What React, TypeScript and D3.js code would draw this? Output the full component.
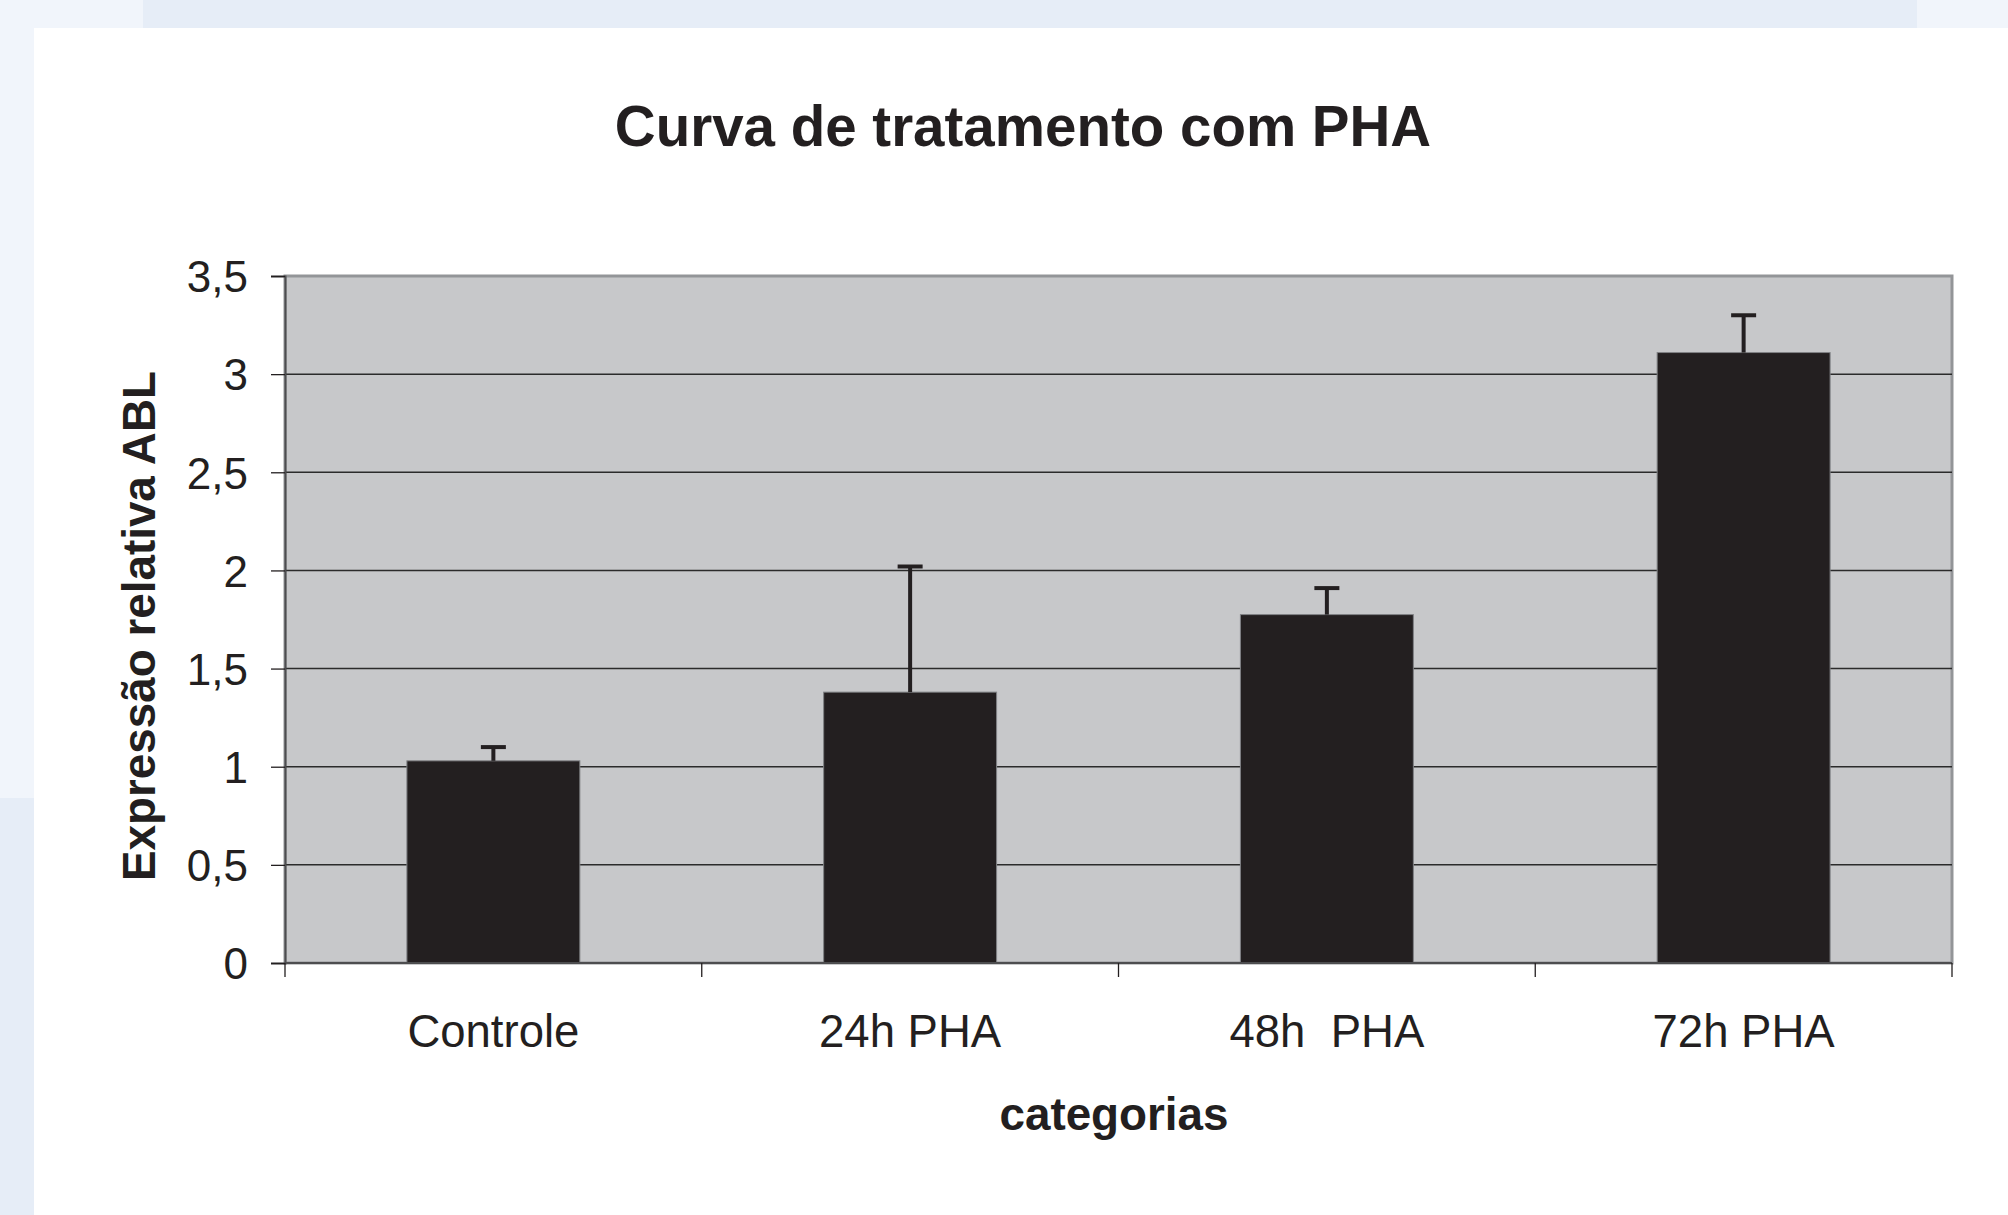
import { useEffect, useRef } from 'react';
import * as d3 from 'd3';

// values
const categories = ['Controle', '24h PHA', '48h  PHA', '72h PHA'];
const means = [1.03, 1.38, 1.775, 3.11];
const errUp = [0.07, 0.64, 0.135, 0.19];
const yTicks = [0, 0.5, 1, 1.5, 2, 2.5, 3, 3.5];

const W = 2008;
const H = 1215;
const INK = '#231f20';

const App = () => {
  const svgRef = useRef<SVGSVGElement | null>(null);

  useEffect(() => {
    if (!svgRef.current) return;
    const svg = d3.select(svgRef.current);
    svg.selectAll('*').remove();

    // page backdrop
    svg.append('rect').attr('width', W).attr('height', H).attr('fill', '#ffffff');
    svg.append('rect').attr('x', 0).attr('y', 0).attr('width', W).attr('height', 28).attr('fill', '#f1f5fb');
    svg.append('rect').attr('x', 143).attr('y', 0).attr('width', 1917 - 143).attr('height', 28).attr('fill', '#e6edf7');
    svg.append('rect').attr('x', 0).attr('y', 28).attr('width', 34).attr('height', 798 - 28).attr('fill', '#f1f5fb');
    svg.append('rect').attr('x', 0).attr('y', 798).attr('width', 34).attr('height', H - 798).attr('fill', '#e6edf7');

    const left = 285, right = 1952, top = 276, bottom = 963;

    const x = d3.scaleBand<string>()
      .domain(categories)
      .range([left, right])
      .paddingInner(0.585)
      .paddingOuter(0.2925);

    const y = d3.scaleLinear().domain([0, 3.5]).range([bottom, top]);

    // plot area
    svg.append('rect')
      .attr('x', left).attr('y', top)
      .attr('width', right - left).attr('height', bottom - top)
      .attr('fill', '#c7c8ca')
      .attr('stroke', '#939598')
      .attr('stroke-width', 3);

    // gridlines
    svg.append('g')
      .selectAll('line')
      .data(yTicks.filter(d => d > 0 && d < 3.5))
      .enter()
      .append('line')
      .attr('x1', left).attr('x2', right)
      .attr('y1', d => y(d)).attr('y2', d => y(d))
      .attr('stroke', '#2b2b2b')
      .attr('stroke-width', 1.5);

    // bars
    svg.append('g')
      .selectAll('rect')
      .data(means)
      .enter()
      .append('rect')
      .attr('x', (d, i) => x(categories[i]) as number)
      .attr('y', d => y(d))
      .attr('width', x.bandwidth())
      .attr('height', d => bottom - y(d))
      .attr('fill', INK)
      .attr('stroke', '#808285')
      .attr('stroke-width', 1);

    // error bars (upper only)
    const eb = svg.append('g').attr('stroke', INK).attr('stroke-width', 4);
    means.forEach((m, i) => {
      const cx = (x(categories[i]) as number) + x.bandwidth() / 2;
      eb.append('line')
        .attr('x1', cx).attr('x2', cx)
        .attr('y1', y(m)).attr('y2', y(m + errUp[i]));
      eb.append('line')
        .attr('x1', cx - 12.5).attr('x2', cx + 12.5)
        .attr('y1', y(m + errUp[i])).attr('y2', y(m + errUp[i]));
    });

    // y axis
    const yAxis = d3.axisLeft(y)
      .tickValues(yTicks)
      .tickSize(14)
      .tickPadding(23)
      .tickFormat(d => String(d).replace('.', ','));

    const ya = svg.append('g')
      .attr('transform', `translate(${left},0)`)
      .call(yAxis);
    ya.select('.domain').attr('stroke', '#4d4d4f').attr('stroke-width', 2);
    ya.selectAll('.tick line').attr('stroke', INK).attr('stroke-width', 1.3);
    ya.selectAll('.tick text')
      .attr('fill', INK)
      .attr('font-family', 'Liberation Sans, Arial, sans-serif')
      .attr('font-size', 44)
      .attr('dy', '0.36em');

    // x axis
    const xa = svg.append('g');
    xa.append('line')
      .attr('x1', left).attr('x2', right)
      .attr('y1', bottom).attr('y2', bottom)
      .attr('stroke', '#4d4d4f').attr('stroke-width', 2);
    const bounds = d3.range(categories.length + 1).map(i => left + i * x.step());
    xa.selectAll('line.xt')
      .data(bounds)
      .enter()
      .append('line')
      .attr('class', 'xt')
      .attr('x1', d => d).attr('x2', d => d)
      .attr('y1', bottom).attr('y2', bottom + 14)
      .attr('stroke', INK).attr('stroke-width', 1.3);
    xa.selectAll('text')
      .data(categories)
      .enter()
      .append('text')
      .attr('x', d => (x(d) as number) + x.bandwidth() / 2)
      .attr('y', 1047)
      .attr('text-anchor', 'middle')
      .attr('fill', INK)
      .attr('font-family', 'Liberation Sans, Arial, sans-serif')
      .attr('font-size', 45.5)
      .style('white-space', 'pre')
      .text(d => d);

    // titles
    svg.append('text')
      .attr('x', 1023).attr('y', 146)
      .attr('text-anchor', 'middle')
      .attr('fill', INK)
      .attr('font-family', 'Liberation Sans, Arial, sans-serif')
      .attr('font-weight', 'bold')
      .attr('font-size', 56.5)
      .text('Curva de tratamento com PHA');

    svg.append('text')
      .attr('x', 1114).attr('y', 1130)
      .attr('text-anchor', 'middle')
      .attr('fill', INK)
      .attr('font-family', 'Liberation Sans, Arial, sans-serif')
      .attr('font-weight', 'bold')
      .attr('font-size', 45.8)
      .text('categorias');

    svg.append('text')
      .attr('transform', 'translate(155,626) rotate(-90)')
      .attr('text-anchor', 'middle')
      .attr('fill', INK)
      .attr('font-family', 'Liberation Sans, Arial, sans-serif')
      .attr('font-weight', 'bold')
      .attr('font-size', 45.8)
      .text('Expressão relativa ABL');
  }, []);

  return (
    <div style={{ position: 'absolute', left: 0, top: 0 }}>
      <svg ref={svgRef} width={W} height={H} style={{ display: 'block' }} />
    </div>
  );
};

export default App;
